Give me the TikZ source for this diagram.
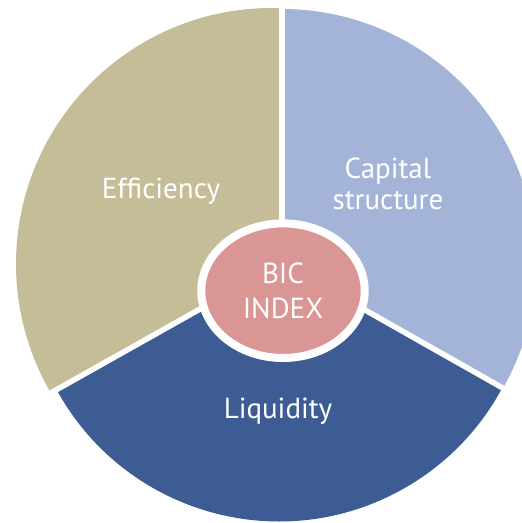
\documentclass[tikz,border=0pt]{standalone}
\usepackage{fontspec}
\setmainfont{PT Sans}
\usetikzlibrary{shapes.geometric,calc}
\definecolor{tanc}{HTML}{C4BD97}
\definecolor{lblue}{HTML}{A3B4D8}
\definecolor{dblue}{HTML}{3D5C93}
\definecolor{pinkc}{HTML}{D99694}
\begin{document}
\begin{tikzpicture}[x=1pt,y=1pt,
  sep/.style={white,line width=5.5pt},
  lbl/.style={text=white,font=\fontsize{29}{31.6}\selectfont,align=center,inner sep=0pt}]
\useasboundingbox (0,0) rectangle (522,523);
\coordinate (O) at (282,260);
\coordinate (L) at (56,133);
\coordinate (R) at (501,136);
\coordinate (T) at (282,523);
% sectors
\fill[tanc] (O) -- (282,514.8) arc[start angle=87.76,end angle=210,radius=256] -- cycle;
\fill[lblue] (O) -- (502,133) arc[start angle=-30,end angle=90,radius=254] -- cycle;
\fill[dblue] (O) -- (56.6,133.3) arc[start angle=208.7,end angle=331.8,radius=253.5] -- cycle;
% separators
\draw[sep] (O) -- (T);
\draw[sep] (O) -- ($(O)!1.05!(L)$);
\draw[sep] (O) -- ($(O)!1.05!(R)$);
% centre
\node[ellipse,minimum width=163.4pt,minimum height=134.6pt,inner sep=0pt,
  fill=pinkc,draw=white,line width=8pt,text=white,
  font=\fontsize{29}{35.3}\selectfont,align=center] (bic) at (283,232.3) {BIC\\INDEX};
\node[lbl,anchor=base] (eff) at (161,324) {Efficiency};
\node[lbl] (cap) at (388,339) {Capital\\structure};
\node[lbl,anchor=base] (liq) at (278,104.7) {Liquidity};
\end{tikzpicture}
\end{document}
